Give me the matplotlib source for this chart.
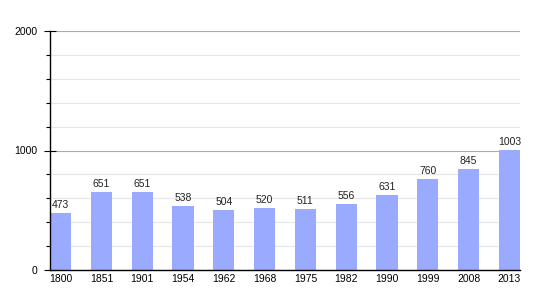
import matplotlib
matplotlib.use("Agg")
import matplotlib.pyplot as plt
from matplotlib.ticker import MultipleLocator

years = ["1800", "1851", "1901", "1954", "1962", "1968", "1975", "1982", "1990", "1999", "2008", "2013"]
population = [473, 651, 651, 538, 504, 520, 511, 556, 631, 760, 845, 1003]

plt.rcParams['font.family'] = ['Liberation Sans', 'DejaVu Sans']

fig = plt.figure(figsize=(5.5, 3), dpi=100)
ax = fig.add_axes([50 / 550, 30 / 300, 470 / 550, 239 / 300])

x = range(len(years))
ax.bar(x, population, width=0.52, color="#9aabff", zorder=2)

# value labels above bars
for i, v in enumerate(population):
    ax.text(i, v + 25, str(v), ha="center", va="bottom", fontsize=7.5, color="#222222")

ax.set_xlim(-0.26, 11.26)
ax.set_ylim(0, 2000)
ax.set_xticks(list(x))
ax.set_xticklabels(years, fontsize=7.5)
ax.tick_params(axis="x", length=0, pad=3)

ax.yaxis.set_major_locator(MultipleLocator(1000))
ax.yaxis.set_minor_locator(MultipleLocator(200))
ax.tick_params(axis="y", which="major", direction="inout", length=8, width=0.8,
               labelsize=7.5, pad=5)
ax.tick_params(axis="y", which="minor", length=3, width=0.8)

# grid lines
ax.grid(axis="y", which="minor", color="#e6e6e6", linewidth=0.8, zorder=0)
ax.grid(axis="y", which="major", color="#aaaaaa", linewidth=0.8, zorder=1)

for s in ["top", "right"]:
    ax.spines[s].set_visible(False)
ax.spines["left"].set_linewidth(1)
ax.spines["bottom"].set_linewidth(1)
ax.spines["left"].set_zorder(3)

fig.savefig("out.png", dpi=100)
